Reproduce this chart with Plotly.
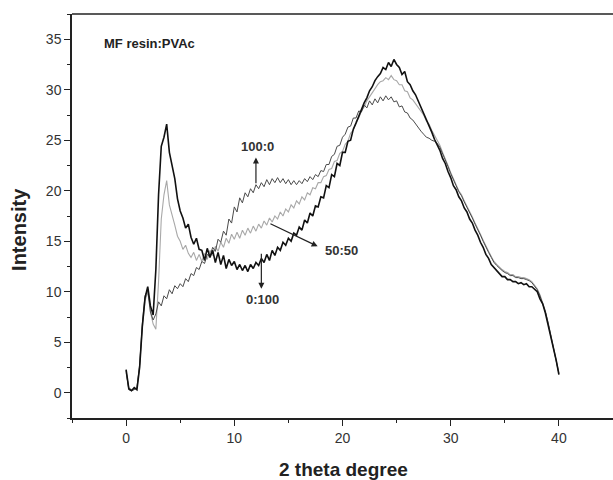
import numpy as np
import plotly.graph_objs as go

# 2 theta grid (degree), 0.25 step
two_theta = np.arange(0, 40.001, 0.25)

# Intensity, one row per degree (x = n, n+.25, n+.5, n+.75)
pvac_0_100 = [
    2.3, 0.4, 0.2, 0.5,
    0.3, 2.5, 6.6, 9.4,
    10.5, 8.6, 7.7, 12.2,
    19.6, 24.4, 25.3, 26.6,
    23.8, 22.3, 21.2, 19.2,
    18.0, 17.3, 16.3, 16.7,
    15.4, 14.7, 15.3, 14.2,
    14.1, 13.1, 14.3, 13.4,
    14.1, 12.9, 13.9, 12.7,
    13.6, 12.3, 13.2, 12.6,
    13.0, 12.2, 12.7, 12.1,
    12.6, 12.0, 12.7, 12.3,
    12.9, 12.6, 13.3, 12.9,
    13.7, 13.1, 14.1, 13.6,
    14.4, 14.1, 14.9, 14.6,
    15.3, 15.0, 15.8, 15.6,
    16.4, 16.1, 17.1, 16.8,
    17.8, 17.5, 18.5, 18.4,
    19.4, 19.3, 20.5, 20.3,
    21.6, 21.4, 22.7, 22.5,
    23.8, 23.8, 24.9, 25.0,
    26.1, 26.7, 27.4, 28.1,
    28.7, 29.2, 29.9, 30.3,
    30.9, 31.3, 31.6, 32.2,
    32.0, 32.7, 32.3, 33.0,
    32.5, 32.2, 31.5, 31.8,
    30.8, 30.5, 29.9, 29.5,
    28.9, 28.3, 27.7, 27.1,
    26.4, 25.8, 25.1, 24.6,
    24.0, 23.2, 22.7, 21.9,
    21.3, 20.5, 20.1, 19.4,
    19.0, 18.3, 17.9, 17.2,
    16.8, 16.1, 15.6, 14.9,
    14.4, 13.7, 13.3, 12.7,
    12.4, 12.0, 11.8, 11.5,
    11.5, 11.2, 11.2, 11.0,
    11.0, 10.8, 10.9, 10.7,
    10.8, 10.5, 10.5, 10.2,
    10.0, 9.3, 8.8, 7.9,
    6.8, 5.7, 4.4, 3.2,
    1.8,
]

pvac_50_50 = [
    2.0, 0.5, 0.3, 0.4,
    0.4, 2.6, 6.4, 9.1,
    10.0, 8.0, 6.8, 6.3,
    11.0, 17.2, 19.6, 21.0,
    18.6, 17.7, 16.6, 15.5,
    15.0, 14.2, 14.6, 13.8,
    13.4, 13.9, 13.1, 13.7,
    13.0, 13.8, 13.2, 14.1,
    13.6, 14.5, 14.0, 14.9,
    14.4, 15.3, 14.8, 15.7,
    15.2, 15.9, 15.3, 16.1,
    15.6, 16.3, 15.8, 16.5,
    16.0, 16.7, 16.3, 17.0,
    16.6, 17.3, 16.9, 17.5,
    17.2, 17.9, 17.5, 18.2,
    17.9, 18.6, 18.3, 19.0,
    18.7, 19.4, 19.1, 19.8,
    19.6, 20.3, 20.2, 20.8,
    20.8, 21.4, 21.5, 22.1,
    22.2, 22.9, 23.0, 23.7,
    23.9, 24.6, 24.9, 25.7,
    26.0, 26.8, 27.2, 27.9,
    28.3, 28.9, 29.3, 29.8,
    30.1, 30.5, 30.8, 30.9,
    31.2, 31.0, 31.4, 31.0,
    30.9, 30.5, 30.5, 29.9,
    29.8, 29.2, 29.0, 28.6,
    28.3, 27.8, 27.5, 26.9,
    26.6, 26.0, 25.5, 25.0,
    24.5, 23.8, 23.2, 22.5,
    21.8, 21.1, 20.6, 20.0,
    19.6, 19.0, 18.5, 17.9,
    17.4, 16.8, 16.3, 15.7,
    15.1, 14.5, 14.0, 13.5,
    13.0, 12.7, 12.4, 12.2,
    12.0, 11.9, 11.7, 11.7,
    11.5, 11.5, 11.4, 11.4,
    11.3, 11.2, 11.0, 10.7,
    10.3, 9.7, 9.0, 8.1,
    7.0, 5.8, 4.5, 3.3,
    2.0,
]

pvac_100_0 = [
    2.2, 0.3, 0.2, 0.3,
    0.5, 2.8, 6.8, 9.6,
    10.2, 8.0, 7.2, 7.8,
    9.0, 8.6, 9.6, 9.3,
    10.2, 9.8, 10.6, 10.3,
    10.8, 10.5, 11.3, 11.0,
    11.8, 11.6, 12.4, 12.2,
    13.0, 12.8, 13.7, 13.5,
    14.4, 14.0, 15.2, 14.9,
    16.0, 15.6, 17.2, 16.8,
    18.4, 17.9, 19.3, 18.8,
    19.8, 19.4, 20.2, 19.8,
    20.6, 20.2, 20.8, 20.4,
    21.1, 20.6, 21.2, 20.8,
    21.3, 20.8, 21.2, 20.7,
    21.1, 20.6, 21.0, 20.6,
    21.0, 20.7, 21.2, 20.9,
    21.4, 21.1, 21.6, 21.4,
    22.0, 21.9, 22.6, 22.6,
    23.4, 23.6, 24.4, 24.5,
    25.3, 25.6, 26.3, 26.4,
    27.2, 27.2, 27.9, 27.8,
    28.5, 28.2, 28.9, 28.5,
    29.1, 28.7, 29.3, 28.9,
    29.4, 29.0, 29.3, 28.8,
    28.9, 28.3, 28.4, 27.8,
    27.7, 27.2, 27.0, 26.6,
    26.3, 25.9, 25.6, 25.3,
    25.2, 25.0, 24.9, 24.7,
    24.3, 23.7, 23.0, 22.4,
    21.7, 21.0, 20.5, 19.9,
    19.5, 18.9, 18.4, 17.8,
    17.3, 16.7, 16.2, 15.6,
    15.0, 14.4, 13.9, 13.4,
    12.9, 12.6, 12.3, 12.1,
    11.9, 11.8, 11.6, 11.6,
    11.4, 11.4, 11.3, 11.3,
    11.2, 11.1, 10.9, 10.6,
    10.2, 9.6, 8.9, 8.0,
    6.9, 5.7, 4.4, 3.2,
    1.9,
]

font_family = "Arial"

data = [
    go.Scatter(x=two_theta, y=pvac_50_50, mode='lines', name='50:50',
               line=dict(color='#a8a8a8', width=1.1)),
    go.Scatter(x=two_theta, y=pvac_100_0, mode='lines', name='100:0',
               line=dict(color='#4a4a4a', width=1.0)),
    go.Scatter(x=two_theta, y=pvac_0_100, mode='lines', name='0:100',
               line=dict(color='#111111', width=1.6)),
]

label_font = dict(family=font_family, size=13, color='#333333')
arrow_style = dict(showarrow=True, arrowhead=2, arrowsize=1, arrowwidth=1.2,
                   arrowcolor='#222222', axref='x', ayref='y', text='')

annotations = [
    # axis titles placed by hand
    dict(x=-0.098, y=0.468, xref='paper', yref='paper', text='<b>Intensity</b>', textangle=-90,
         xanchor='center', yanchor='middle',
         showarrow=False, font=dict(family=font_family, size=20, color='#222222')),
    dict(x=0.501, y=-0.1287, xref='paper', yref='paper', text='<b>2 theta degree</b>',
         xanchor='center', yanchor='middle',
         showarrow=False, font=dict(family=font_family, size=19, color='#222222')),
    dict(x=-2.2, y=34.6, xref='x', yref='y', text='<b>MF resin:PVAc</b>',
         showarrow=False, xanchor='left', font=dict(family=font_family, size=13, color='#222222')),
    # 100:0
    dict(x=12.0, y=23.3, ax=12.0, ay=20.6, **arrow_style),
    dict(x=12.1, y=24.4, text='<b>100:0</b>', showarrow=False, font=label_font),
    # 0:100
    dict(x=12.5, y=10.3, ax=12.5, ay=13.9, **arrow_style),
    dict(x=12.6, y=9.2, text='<b>0:100</b>', showarrow=False, font=label_font),
    # 50:50
    dict(x=17.7, y=14.5, ax=13.2, ay=16.8, **arrow_style),
    dict(x=19.9, y=14.1, text='<b>50:50</b>', showarrow=False, font=label_font),
]

layout = go.Layout(
    width=613, height=480,
    margin=dict(l=72, r=0, t=14, b=62),
    paper_bgcolor='white', plot_bgcolor='white',
    showlegend=False,
    font=dict(family=font_family, color='#333333'),
    xaxis=dict(
        range=[-5, 45], tick0=0, dtick=10, ticks='outside', ticklen=6, tickwidth=1.2,
        tickcolor='#222222', tickfont=dict(size=14, color='#333333'),
        showline=True, linecolor='#222222', linewidth=1.5,
        showgrid=False, zeroline=False, automargin=False,
        minor=dict(dtick=5, tick0=0, ticks='outside', ticklen=3, tickcolor='#222222', showgrid=False),
    ),
    yaxis=dict(
        range=[-2.5, 37.5], tick0=0, dtick=5, ticks='outside', ticklen=6, tickwidth=1.2,
        tickcolor='#222222', tickfont=dict(size=14, color='#333333'),
        showline=True, linecolor='#222222', linewidth=1.5,
        showgrid=False, zeroline=False, automargin=False,
        minor=dict(dtick=2.5, tick0=0, ticks='outside', ticklen=3, tickcolor='#222222', showgrid=False),
    ),
    # top frame line only (no right border in the original)
    shapes=[dict(type='line', xref='paper', yref='paper', x0=0, x1=1, y0=1, y1=1,
                 line=dict(color='#222222', width=1.5))],
    annotations=annotations,
)

fig = go.Figure(data=data, layout=layout)
fig.write_html("out.html", config={'displayModeBar': False},
               post_script="document.body.style.margin='0px';")
